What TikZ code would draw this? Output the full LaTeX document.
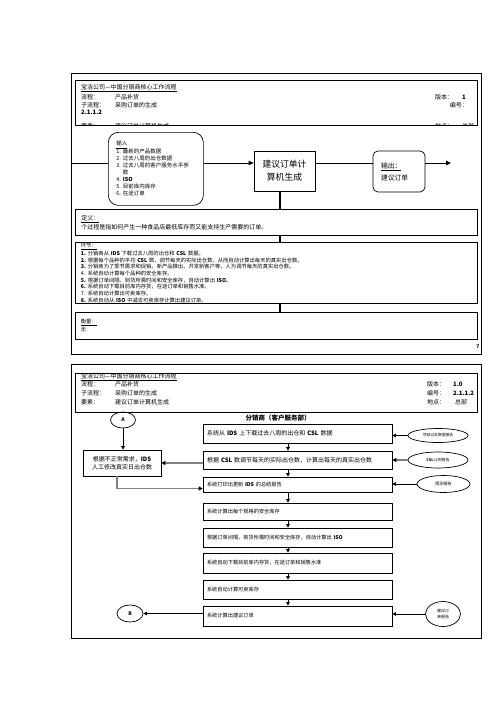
\documentclass[tikz,border=0pt]{standalone}
\usepackage{fontspec}
\setmainfont{Noto Sans CJK SC}
\usetikzlibrary{arrows.meta,shapes.geometric}
\tikzset{
 fr/.style={line width=0.9pt},
 bx/.style={draw, line width=0.7pt, inner sep=0pt},
 ht/.style={inner sep=0pt, anchor=base west, font=\fontsize{6}{7}\selectfont},
 htr/.style={inner sep=0pt, anchor=base east, font=\fontsize{6}{7}\selectfont},
 mbox/.style={bx, minimum width=189pt, text width=181pt, inner xsep=4pt, align=left},
 ell/.style={draw, ellipse, inner sep=0pt, line width=0.7pt},
 arr/.style={-{Triangle[length=3.5pt,width=3.5pt]}, line width=0.6pt},
 arrb/.style={-{Triangle[length=5pt,width=4.5pt]}, line width=1pt},
 garr/.style={-{Triangle[length=4pt,width=4pt,color=black]}, line width=1.6pt, draw=gray},
 vl/.style={line width=1.5pt},
}
\begin{document}
\begin{tikzpicture}[x=1pt,y=-1pt]
\useasboundingbox (0,0) rectangle (496,702);
\fill[white] (0,0) rectangle (496,702);

%%%%%%%%%%%%%%%% PAGE 1 %%%%%%%%%%%%%%%%
\draw[fr] (71,73) rectangle (481,354);
\draw[bx] (75,80) rectangle (477,125);
\node[ht] (p1title) at (81,89.5) {\underline{宝洁公司—中国分销商核心工作流程}};
\node[ht] (p1l1) at (81,99) {流程：};
\node[ht] (p1v1) at (115,99) {产品补货};
\node[ht] (p1r1) at (435,99) {版本：};
\node[ht] (p1rv1) at (462,99) {\textbf{1}};
\node[ht] (p1l2) at (81,107) {子流程：};
\node[ht] (p1v2) at (115,107) {采购订单的生成};
\node[htr] (p1r2) at (468,107) {编号：};
\node[ht] (p1l3) at (81,114.5) {\textbf{2.1.1.2}};
\begin{scope}
\clip (75,80) rectangle (477,124.4);
\node[ht] (p1l4) at (81,128) {要素：};
\node[ht] (p1v4) at (115,128) {建议订单计算机生成};
\node[ht] (p1r4) at (435,128) {地点：};
\node[ht] (p1rv4) at (462,128) {总部};
\end{scope}

\node[bx, rounded corners=10pt, minimum width=95pt, minimum height=73pt,
      text width=79pt, inner xsep=8pt, align=left, anchor=north west,
      font=\fontsize{5.5}{7}\selectfont] (inp) at (108,132)
 {\underline{输入}\\
  \makebox[6.5pt][l]{1.}最新的产品数据\\
  \makebox[6.5pt][l]{2.}过去八周的出仓数据\\
  \makebox[6.5pt][l]{3.}过去八周的客户服务水平参\\
  \hspace*{6.5pt}数\\
  \makebox[6.5pt][l]{4.}\textbf{ISO}\\
  \makebox[6.5pt][l]{5.}目前库内库存\\
  \makebox[6.5pt][l]{6.}在途订单};

\node[bx, minimum width=61pt, minimum height=40pt, align=center,
      font=\fontsize{8.8}{13}\selectfont] (calc) at (284.5,171) {建议订单计\\算机生成};

\node[bx, rounded corners=5pt, minimum width=52pt, minimum height=41pt,
      text width=36pt, inner xsep=8pt, align=left,
      font=\fontsize{6.8}{12}\selectfont] (out) at (399,171.5) {\underline{输出：}\\建议订单};

\coordinate (lin) at (71,163);
\coordinate (lout) at (451,163);
\draw[line width=1pt] (lin) -- (lin -| inp.west);
\draw[arrb] (inp.east |- lin) -- (calc.west |- lin);
\draw[line width=1pt] (calc.east |- lin) -- (out.west |- lin);
\draw[arrb] (out.east |- lin) -- (lout);

\node[bx, minimum width=402pt, minimum height=26pt, text width=390pt, inner xsep=6pt,
      align=left, anchor=north west, font=\fontsize{6}{9}\selectfont] (def) at (75,209)
 {\underline{定义：}\\个过程是指如何产生一种食品店最低库存而又能支持生产需要的订单。};

\node[bx, minimum width=402pt, minimum height=61pt, text width=391pt, inner xsep=5.5pt,
      align=left, anchor=north west, font=\fontsize{5.3}{6.7}\selectfont] (stp) at (75,242)
 {\underline{环节：}\\
  \makebox[7pt][l]{\textbf{1.}}分销商从 \textbf{IDS} 下载过去八周的出仓和 \textbf{CSL} 数据。\\
  \makebox[7pt][l]{\textbf{2.}}根据每个品种的平均 \textbf{CSL} 数，调节每天的实际出仓数，从而自动计算出每天的真实出仓数。\\
  \makebox[7pt][l]{\textbf{3.}}分销商为了季节需求和促销、新产品推出、开发新客户等，人为调节每天的真实出仓数。\\
  \makebox[7pt][l]{4.}系统自动计算每个品种的安全库存。\\
  \makebox[7pt][l]{\textbf{5.}}根据订单间隔，到货所需时间和安全库存，自动计算出 \textbf{ISO}。\\
  \makebox[7pt][l]{\textbf{6.}}系统自动下载目前库内存货，在途订单和销售水准。\\
  \makebox[7pt][l]{7.}系统自动计算出可卖库存。\\
  \makebox[7pt][l]{\textbf{8.}}系统自动从 \textbf{ISO} 中减去可卖库存计算出建议订单。};

\node[bx, minimum width=402pt, minimum height=27pt, text width=391pt, inner xsep=5.5pt,
      align=left, anchor=north west, font=\fontsize{5.3}{8}\selectfont] (msr) at (75,312)
 {\underline{衡量：}\\无};

\draw[vl] ([xshift=-4.5pt]calc.south) -- ([xshift=-4.5pt]calc.south |- def.north);
\draw[vl] ([xshift=-4.5pt]calc.south |- def.south) -- ([xshift=-4.5pt]calc.south |- stp.north);
\draw[vl] ([xshift=-4.5pt]calc.south |- stp.south) -- ([xshift=-4.5pt]calc.south |- msr.north);

\node[inner sep=0pt, font=\fontsize{5}{6}\selectfont] (pg7) at (478,347) {\textbf{7}};

%%%%%%%%%%%%%%%% PAGE 2 %%%%%%%%%%%%%%%%
\draw[fr] (71,364) rectangle (481,638);
\draw[bx] (75,373) rectangle (477,412);
\node[ht] (p2title) at (81,378.5) {\underline{宝洁公司—中国分销商核心工作流程}};
\node[ht] (p2l1) at (81,386.8) {流程：};
\node[ht] (p2v1) at (115,386.8) {产品补货};
\node[ht] (p2r1) at (427,386.8) {版本：};
\node[ht] (p2rv1) at (453,386.8) {\textbf{1.0}};
\node[ht] (p2l2) at (81,395.3) {子流程：};
\node[ht] (p2v2) at (115,395.3) {采购订单的生成};
\node[ht] (p2r2) at (427,395.3) {编号：};
\node[ht] (p2rv2) at (453,395.3) {\textbf{2.1.1.2}};
\node[ht] (p2l3) at (81,404) {要素：};
\node[ht] (p2v3) at (115,404) {建议订单计算机生成};
\node[ht] (p2r3) at (427,404) {地点：};
\node[ht] (p2rv3) at (455,404) {总部};

\node[inner sep=0pt, font=\bfseries\fontsize{6.5}{7}\selectfont] (hd) at (278,418) {分销商（客户服务部）};

\node[mbox, minimum height=19pt, font=\fontsize{6}{7}\selectfont] (b1) at (297.5,433.5) {系统从 \textbf{IDS} 上下载过去八周的出仓和 \textbf{CSL} 数据};
\node[mbox, minimum height=18pt, font=\fontsize{6}{7}\selectfont] (b2) at (297.5,460) {根据 \textbf{CSL} 数调节每天的实际出仓数，计算出每天的真实出仓数};
\node[mbox, minimum height=15pt, font=\fontsize{5.2}{6}\selectfont] (b3) at (297.5,484.5) {系统打印出更新 \textbf{IDS} 的总结报告};
\node[mbox, minimum height=17pt, font=\fontsize{5.2}{6}\selectfont] (b4) at (297.5,511.5) {系统计算出每个规格的安全库存};
\node[mbox, minimum height=19pt, font=\fontsize{5.2}{6}\selectfont] (b5) at (297.5,537.5) {根据订单间隔，到货所需时间和安全库存，自动计算出 \textbf{ISO}};
\node[mbox, minimum height=20pt, font=\fontsize{5.2}{6}\selectfont] (b6) at (297.5,563) {系统自动下载目前库内存货，在途订单和销售水准};
\node[mbox, minimum height=19pt, font=\fontsize{5.2}{6}\selectfont] (b7) at (297.5,589.5) {系统自动计算可卖库存};
\node[mbox, minimum height=20pt, font=\fontsize{5.2}{6}\selectfont] (b8) at (297.5,616) {系统计算出建议订单};

\node[bx, minimum width=78pt, minimum height=26pt, align=center,
      font=\fontsize{6}{8}\selectfont] (lb) at (122,463) {根据不正常需求，\textbf{IDS}\\人工修改真实日出仓数};

\node[ell, minimum width=25pt, minimum height=16pt, font=\fontsize{5}{6}\selectfont] (A) at (123,420) {\textbf{A}};
\node[ell, minimum width=26pt, minimum height=17pt, font=\fontsize{5}{6}\selectfont] (B) at (130,613.5) {\textbf{B}};

\node[ell, minimum width=60pt, minimum height=14pt, font=\fontsize{3.8}{4.5}\selectfont] (E1) at (438,435.5) {项目过去数据报告};
\node[ell, minimum width=60pt, minimum height=16pt, font=\fontsize{3.8}{4.5}\selectfont] (E2) at (438,460) {\textbf{CSL} 比例报告};
\node[ell, minimum width=53pt, minimum height=17pt, font=\fontsize{4.2}{5}\selectfont] (E3) at (443.5,484) {预测报告};
\node[ell, minimum width=35pt, minimum height=25pt, align=center, font=\fontsize{4}{6.5}\selectfont] (E4) at (443,614) {建议订\\单报告};

\draw[arr] (A.south) -- (A.south |- lb.north);
\draw[arr] ([xshift=-9.5pt]b1.south) -- ([xshift=-9.5pt]b2.north);
\draw[arr] ([xshift=-9.5pt]b2.south) -- ([xshift=-9.5pt]b3.north);
\draw[arr] ([xshift=-9.5pt]b3.south) -- ([xshift=-9.5pt]b4.north);
\draw[arr] ([xshift=-9.5pt]b4.south) -- ([xshift=-9.5pt]b5.north);
\draw[arr] ([xshift=-9.5pt]b5.south) -- ([xshift=-9.5pt]b6.north);
\draw[arr] ([xshift=-9.5pt]b6.south) -- ([xshift=-9.5pt]b7.north);
\draw[arr] ([xshift=-9.5pt]b7.south) -- ([xshift=-9.5pt]b8.north);

\draw[arr] (E1.west) -- (E1.west -| b1.east);
\draw[garr] (E2.west) -- (E2.west -| b2.east);
\draw[arr] (E3.west) -- (E3.west -| b3.east);
\draw[arr] (E4.west) -- (E4.west -| b8.east);
\draw[arr] (b8.west |- B.east) -- (B.east);

\draw[garr] (b2.west |- lb.east) -- (lb.east);
\draw[garr] ([xshift=-5pt]lb.south) |- ([yshift=-4pt]b3.west);
\end{tikzpicture}
\end{document}
